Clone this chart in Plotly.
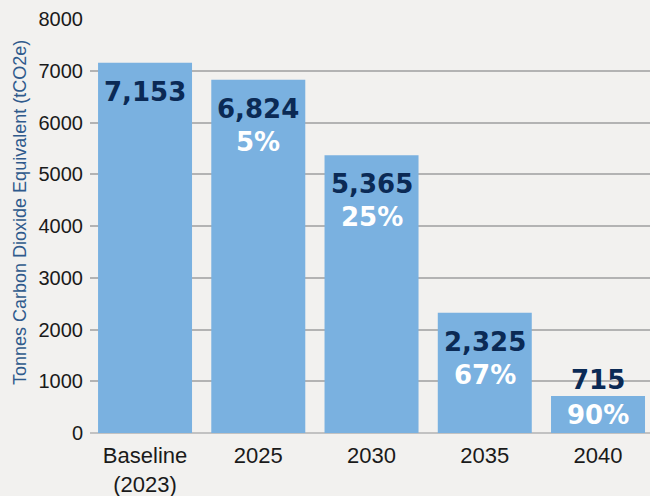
import plotly.graph_objects as go

categories = ["Baseline<br>(2023)", "2025", "2030", "2035", "2040"]
emissions = [7153, 6824, 5365, 2325, 715]
reductions = ["", "5%", "25%", "67%", "90%"]
y_ticks = [0, 1000, 2000, 3000, 4000, 5000, 6000, 7000, 8000]
y_title = "Tonnes Carbon Dioxide Equivalent (tCO2e)"

BG = "#F2F1EF"
BAR = "#7AB1E0"
NAVY = "#0B2A55"
LABEL_FONT = "DejaVu Sans"

fig = go.Figure()
fig.add_trace(go.Bar(
    x=list(range(len(categories))), y=emissions,
    marker=dict(color=BAR, line=dict(width=0)),
    hoverinfo="skip",
))

annotations = []
for i, (v, r) in enumerate(zip(emissions, reductions)):
    small = v < 1500
    annotations.append(dict(
        x=i, y=v, xref="x", yref="y", text=f"{v:,}", showarrow=False,
        yanchor="middle", yshift=(16 if small else -29),
        font=dict(family=LABEL_FONT, size=26, color=NAVY, weight="bold"),
    ))
    if r:
        annotations.append(dict(
            x=i, y=v, xref="x", yref="y", text=r, showarrow=False,
            yanchor="middle", yshift=(-19 if small else -62),
            font=dict(family=LABEL_FONT, size=26, color="white", weight="bold"),
        ))

annotations.append(dict(
    x=0, y=0.5, xref="paper", yref="paper", text=y_title, showarrow=False,
    textangle=-90, xanchor="center", yanchor="middle", xshift=-70, yshift=13,
    font=dict(family="Liberation Sans", size=18, color="#2F5A8C"),
))

fig.update_layout(
    width=650, height=496,
    paper_bgcolor=BG, plot_bgcolor=BG,
    margin=dict(l=90, r=0, t=19, b=63, autoexpand=False),
    bargap=0.17,
    showlegend=False,
    annotations=annotations,
    font=dict(family="Liberation Sans", color="#1a1a1a"),
    xaxis=dict(
        range=[-0.486, 4.459], automargin=False,
        tickmode="array", tickvals=list(range(len(categories))), ticktext=categories,
        tickfont=dict(size=22, color="#1a1a1a"),
        showgrid=False, zeroline=False, showline=False, ticks="",
        ticklabelstandoff=7,
    ),
    yaxis=dict(
        range=[0, 8000], automargin=False,
        tickmode="array", tickvals=y_ticks, ticktext=[str(t) for t in y_ticks],
        tickfont=dict(size=20, color="#1a1a1a"),
        showgrid=True, gridcolor="#B3B3B3", gridwidth=1.5,
        zeroline=True, zerolinecolor="#C2C2C2", zerolinewidth=2,
        showline=False, ticks="", ticklabelstandoff=6,
    ),
)

fig.write_html(
    "out.html",
    config={"displayModeBar": False},
    post_script="document.body.style.margin='0';document.body.style.overflow='hidden';"
                "document.documentElement.style.overflow='hidden';",
)
